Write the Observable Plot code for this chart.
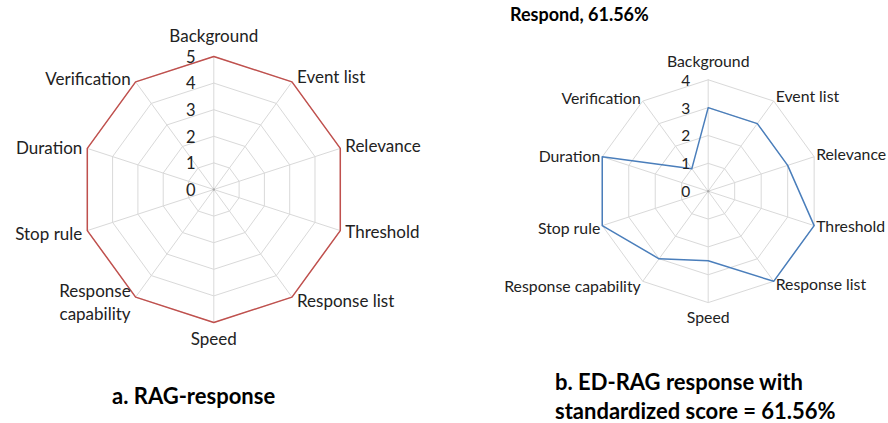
<!DOCTYPE html>
<html>
<head>
<meta charset="utf-8">
<script src="https://cdn.jsdelivr.net/npm/d3@7"></script>
<script src="https://cdn.jsdelivr.net/npm/@observablehq/plot@0.6"></script>
<style>
  html, body { margin: 0; padding: 0; background: #fff; }
  #wrap { position: relative; width: 888px; height: 423px; overflow: hidden; font-family: Lato, "Open Sans", sans-serif; }
  .panel { position: absolute; top: 0; }
  .title { position: absolute; font-weight: bold; color: #000; white-space: nowrap; }
</style>
</head>
<body>
<div id="wrap">
  <div id="left" class="panel" style="left:0px"></div>
  <div id="right" class="panel" style="left:444px"></div>
  <div class="title" style="left:510px; top:3px; font-size:18px; line-height:22px;">Respond, 61.56%</div>
  <div class="title" style="left:112px; top:381px; font-size:22px; line-height:29px;">a. RAG-response</div>
  <div class="title" style="left:555px; top:367px; font-size:22px; line-height:29px;">b. ED-RAG response with<br>standardized score = 61.56%</div>
</div>
<script>
// ---- data ----
const axes = ["Background","Event list","Relevance","Threshold","Response list","Speed","Response capability","Stop rule","Duration","Verification"];
const leftLabels = ["Background","Event list","Relevance","Threshold","Response list","Speed","Response\ncapability","Stop rule","Duration","Verification"];
const rightLabels = ["Background","Event list","Relevance","Threshold","Response list","Speed","Response capability","Stop rule","Duration","Verification"];
const ragScores = [5,5,5,5,5,5,5,5,5,5];
const edragScores = [3,3,3,4,4,2.5,3,4,4,1];
const ragTicks = [0,1,2,3,4,5];
const edragTicks = [0,1,2,3,4];

function radar({labels, scores, ticks, color, unit, cx, cy, fontSize, tickSize, tickDx, topDy, bottomDy, sideDy, sideDx}) {
  const W = 444, H = 423;
  const n = labels.length;
  const ang = i => i * 2 * Math.PI / n;
  const rmax = d3.max(ticks);
  const xDomain = [-cx / unit, (W - cx) / unit];
  const yDomain = [-(H - cy) / unit, cy / unit];
  const ring = [];
  for (const t of ticks.filter(t => t > 0)) {
    for (let i = 0; i <= n; i++) {
      const a = ang(i % n);
      ring.push({t, x: t * Math.sin(a), y: t * Math.cos(a)});
    }
  }
  const spokes = labels.map((l, i) => ({x1: 0, y1: 0, x2: rmax * Math.sin(ang(i)), y2: rmax * Math.cos(ang(i))}));
  const series = [];
  for (let i = 0; i <= n; i++) {
    const a = ang(i % n), v = scores[i % n];
    series.push({x: v * Math.sin(a), y: v * Math.cos(a)});
  }
  const lab = labels.map((l, i) => {
    const a = ang(i);
    return {label: l, i, x: rmax * Math.sin(a), y: rmax * Math.cos(a), s: Math.sin(a), c: Math.cos(a)};
  });
  const k = sideDy / unit;
  const side = d => Math.abs(d.s) > 0.1;
  const rightSide = lab.filter(d => side(d) && d.s > 0).map(d => ({...d, y: d.y + k * d.c}));
  const leftSide = lab.filter(d => side(d) && d.s < 0).map(d => ({...d, y: d.y + k * d.c}));
  const top = lab.filter(d => !side(d) && d.c > 0);
  const bottom = lab.filter(d => !side(d) && d.c < 0);
  return Plot.plot({
    width: W, height: H, margin: 0,
    x: {domain: xDomain, axis: null},
    y: {domain: yDomain, axis: null},
    style: {fontFamily: "Lato, 'Open Sans', sans-serif", background: "transparent", overflow: "visible"},
    marks: [
      Plot.line(ring, {x: "x", y: "y", z: "t", stroke: "#d9d9d9", strokeWidth: 1}),
      Plot.link(spokes, {x1: "x1", y1: "y1", x2: "x2", y2: "y2", stroke: "#d9d9d9", strokeWidth: 1}),
      Plot.dot([{x: 0, y: 0}], {x: "x", y: "y", r: 1.2, fill: "#aaa"}),
      Plot.line(series, {x: "x", y: "y", stroke: color, strokeWidth: 1.5, curve: "linear"}),
      Plot.text(ticks, {x: () => 0, y: d => d, text: d => String(d), dx: tickDx, dy: 1, fontSize: tickSize, fill: "#222", textAnchor: "middle", lineAnchor: "middle"}),
      Plot.text(rightSide, {x: "x", y: "y", text: "label", textAnchor: "start", lineAnchor: "middle", dx: sideDx, fontSize, fill: "#222"}),
      Plot.text(leftSide, {x: "x", y: "y", text: "label", textAnchor: "end", lineAnchor: "middle", lineHeight: 1.38, dx: -sideDx, fontSize, fill: "#222"}),
      Plot.text(top, {x: "x", y: "y", text: "label", textAnchor: "middle", lineAnchor: "middle", dy: -topDy, fontSize, fill: "#222"}),
      Plot.text(bottom, {x: "x", y: "y", text: "label", textAnchor: "middle", lineAnchor: "middle", dy: bottomDy, fontSize, fill: "#222"})
    ]
  });
}

document.getElementById("left").append(radar({
  labels: leftLabels, scores: ragScores, ticks: ragTicks, color: "#c0504d",
  unit: 26.6, cx: 213.3, cy: 189, fontSize: 17, tickSize: 16.5, tickDx: -23, topDy: 20, bottomDy: 17, sideDy: 5, sideDx: 5
}));
document.getElementById("right").append(radar({
  labels: rightLabels, scores: edragScores, ticks: edragTicks, color: "#4a7ebb",
  unit: 27.85, cx: 263.7, cy: 190.7, fontSize: 15.8, tickSize: 15.5, tickDx: -22.5, topDy: 18, bottomDy: 15, sideDy: 4.5, sideDx: 2
}));
</script>
</body>
</html>
